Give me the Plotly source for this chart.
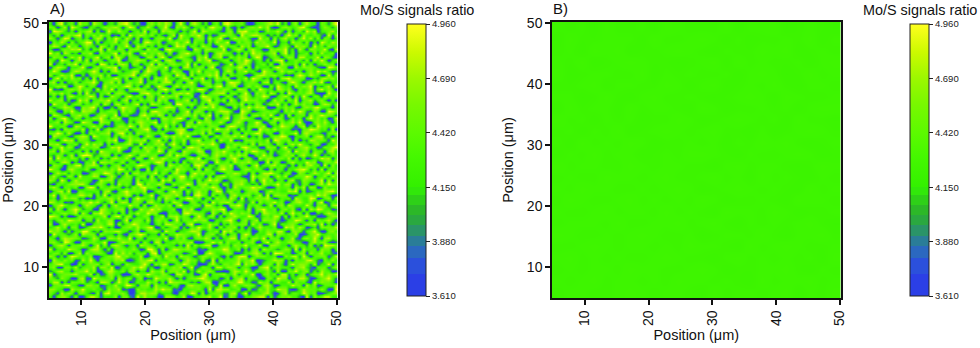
import numpy as np
import plotly.graph_objects as go

FONT = "Liberation Sans"
W, H = 980, 348

# digit = ratio level, read by eye from the map (coarser than the original pixels)
levels_a = [3.64, 3.72, 3.92, 4.20, 4.30, 4.40, 4.50, 4.62, 4.76, 4.90]
levels_b = [4.22, 4.23, 4.24, 4.25]

rows_a = [
"40577316004885143370662194855301776348014466835912750043678805136674420917358833",
"63184750663217089455730148867723441065398170456622781390544783016825539746012367",
"77430085694463317568120074533869771204455630918877346005126483397720148655374019",
"15668943107756024483399516670843325510786644731900583476621785014439660837125548",
"38804165572430886139470253384615097766423158800473659934128570663381745209476631",
"64275300781196545708366147022975583140466897334126057815430066297713488501367942",
"90356678443805127734001685596437620884351179045673382464900573618825147036694758",
"23784415669370048853627714308558166739042836751100487396254473180065936714285401",
"57106638245581773901445869723016447580391265408837761453006892574431678320556147",
"46893300714667258044175336950748812659734001583266479185730466183049577628133905",
"08537461283940565376800247689153367404856272190734558366901245877130645894206373",
"75140698553701246689573338014762945086631377465205148980376633501748829405566138",
"36627004817456630193847265518903675541248006973357610244786151998340267074583421",
"81453976302788415056644730299417038866753120545698337041670855324761908345176604",
"04786155684039271787313508664275543140927368801546275593448017763306854270319886",
"67329840175563490024876651730881346475680013594827336145700592684477330158467212",
"53068776412385107758439046145563902737214658604135880762773916550448216749507835",
"19454237086660743315205689723308144876535904672381460597143388076354801267933546",
"86730514599424076688431370256741955033688712547096824436015376488207751469300674",
"35847066113787952400567384689015247703164954830726671503258443610978385024176658",
"70168435290046638817256974430362886450791133856042745660837125904467413768290503",
"42573986704518347701390566281574603925548677014368930472581766730245983160746831",
"98614002756633580489277133650448177836403952670514685349702463881607256934011577",
"25367458183077965240615384496720053418967652083173964756041875538049461700325864",
"61830579624410873356704128559683346107582034476890154328067944615737207085984412",
"04796345038652170484339560712856470693346518852401779605364138057286343940657178",
"87351204476968325905871664078331528740166245093778615422807356946015784371690243",
"36048577230214657738040496536172864055983713607462850914376683125450863398025716",
"59167344885706291446587130349026775841308964172530683567248190776602145574968301",
"13782900653345178203796654801473159660725846039814745036670258453387906123647895",
"68405536017981644755132748956307642188045375697203185466978310264550838176027344",
"20543677884126730518463099274586117435960678254063177833240854693771416502583966",
"75196038455302867714655082337419580476331725968402366751804947135068227643490816",
"48321760944587015830376246608153074599286340715783654201946670383812556970347285",
"03857264501376498625180773545926417833069574460126587340713889642560175248636917",
"96410785337204653749826151080634752966341807523895601477365206154043789726180554",
"17630448926785041367053389741256086374518960432775814630592447836315062784509173",
"54278603115490876623714504663897151407237685019346285768340191760258433967126648",
"80946375260636142785483076129548736620585913467204793156208477456380615024397815",
"32751480699823576051369427745610482967310476258563848670153936024757168439603264",
"67086324517140965438201764583396075218634870147695326074985416233580946716540783",
"15493760284567023879641350867274316540897725346018562897341076605923167834026589",
"76820546139385706144578229043768159426033685794105376442817563074158495326710437",
"43059781665214437690038576814692507338166924470853902166645380985471603287564196",
"08634215787096345162757430385106848573921046127367584950327114669820345716882403",
"56972830141753668048926175364437201697556381840274156073698245007346917853421567",
"21407566380429137576580346892051634788103465729658340726109673845541206698735180",
"94365018723684502137749618560473925160847342665017984325576801439763058142956374",
"35718640297501866043315278647905638421570956734840268513497026617358492006748315",
"60489327514376952768104456380217746895036218503379146875300461885127360594736028",
"18732056846015783390462127956386051447738264906157235840674739216080455183697642",
"75106493287740536651847303618975624035916740326888410975123564630748396227501986",
"42368750176892400315976524740136887256140578493631072659487800153746216758943305",
"09547136625367184078253690418752360994573261784015563804276137592604837450168726",
"83671402958045769341680527356184702536805147926370841596663402847173905682473051",
"26051784336970612854179364067249575813360298645127403786255971036840729416518637",
"57483620719231548067632017895470316786942050367881562493074728615096354782101946",
"91204675836408273915405786623158946024173985026476318750529634187472063581694730",
"34768015972650184473698250471396205837564014738925680147375006296351847690325818",
"68150437246793056828147469035627881450693276514306987245631780452169730468592143",
"05927384615081734596270358140765934248706591328467105382976241307894565013278674",
"72386591040465827103567914862403751967082345859170634410278856743120697385401926",
"49610258733796041685234870597316428650173926548038716593420965138476250473968312",
"15875043692147368790541236086754913307824561790236548817063342796501837664210985",
"80342769156530982417860751349086267543918044675123906785134627008543719260347561",
"63197405828076413569024687513940785126630847912356047498236151789034652718495036",
"27560384914369257088316540277169403586321759046812737560498023651476088345917620",
"94718623065820743691748205936485170267943516027865304172967346805925134607283451",
"31046587926154908327506673184720896345108627754390268615843017576924083176459208",
"58720946137430862615493086725153403978165286401973552847036694125730867419362745",
"06385172469917034582670341896470255836917340628459017366285743903418562704197386",
"74159803625048716396285170430567391284504761836920485673119460726835049382716504",
"42603758916373845020719468637252148096376950412785630946887513240695718436520917",
"19873250647806129538440362915708675314269087453216708895361274583071462958034683",
"65048197320542376786159703484136920758413362896507214036759482016763589320147526",
"30792461855186403427896241057375860493178524036189745620134578692405716843065279",
]

rows_b = [
"122112321221031221230213",
"212312212132212103122312",
"121221322112320112231021",
"231212112321102312121203",
"112321221213221031232112",
"321121232112012213102231",
"122213112231231021212310",
"211231221312103221320112",
"132112312121320112103221",
"213221121232012321210312",
"121132212311231203121021",
"312211321221102312210132",
"021312201213321021123201",
"203121320112120213231012",
"120213012321231102012321",
"312021201132012321203110",
"031220312210320112120233",
"220131023112101232032112",
"112302211320230121310221",
"301221130212112023201312",
"213012321101230312112023",
"120323011232102113230121",
"031122203112320201121302",
"212031120321113022301210",
]

# colorbar
bar_ticks = [3.61, 3.88, 4.15, 4.42, 4.69, 4.96]
bar_labels = ["3.610", "3.880", "4.150", "4.420", "4.690", "4.960"]
band_edges = [3.61, 3.72, 3.80, 3.86, 3.91, 3.96, 4.01, 4.06, 4.11, 4.15]
band_colors = ["#2b3fe6", "#2b50dc", "#2b68c0", "#2a7d98", "#2a9468", "#2aa840", "#2cb828", "#2ed018", "#31e80a"]
top_values = [4.15, 4.30, 4.42, 4.56, 4.69, 4.82, 4.96]
top_colors = ["#33f000", "#45f800", "#5cfa00", "#78f800", "#9cf800", "#ccfa00", "#ffff1e"]

span = bar_ticks[-1] - bar_ticks[0]
scale = []
for i, c in enumerate(band_colors):
    scale.append([(band_edges[i] - 3.61) / span, c])
    scale.append([(band_edges[i + 1] - 3.61) / span, c])
for v, c in zip(top_values, top_colors):
    scale.append([(v - 3.61) / span, c])
scale[-1][0] = 1.0


def grid(rows, levels):
    n = min(len(r) for r in rows)
    return [[levels[int(c)] for c in row[:n]] for row in rows]


def cells(n, lo=4.85, hi=50.1):
    edges = np.linspace(lo, hi, n + 1)
    return (edges[:-1] + edges[1:]) / 2


def frac_x(px):
    return px / W


def frac_y(px):
    return 1 - px / H


fig = go.Figure()

panels = [
    (rows_a, levels_a, 48.5, 407, "x", "y", "A)"),
    (rows_b, levels_b, 552, 910, "x2", "y2", "B)"),
]

for rows, levels, x0, bar_x, xa, ya, letter in panels:
    z = grid(rows, levels)
    fig.add_trace(go.Heatmap(
        z=z,
        x=cells(len(z[0])),
        y=cells(len(z), 4.95),
        xaxis=xa, yaxis=ya,
        zmin=bar_ticks[0], zmax=bar_ticks[-1],
        colorscale=scale,
        zsmooth="best",
        colorbar=dict(
            x=frac_x(bar_x), xanchor="left", xpad=0, ypad=0,
            y=frac_y(24), yanchor="top",
            len=272 / H, lenmode="fraction",
            thickness=19, thicknessmode="pixels",
            outlinecolor="#222", outlinewidth=1,
            tickmode="array", tickvals=bar_ticks, ticktext=bar_labels,
            ticks="outside", ticklen=4, tickwidth=1, tickcolor="#222",
            tickfont=dict(family=FONT, size=9.5, color="#222"),
        ),
    ))
    fig.add_annotation(x=frac_x(x0 - 1), y=frac_y(9), xref="paper", yref="paper", text=letter,
                       showarrow=False, xanchor="left", yanchor="middle",
                       font=dict(family=FONT, size=15, color="#111"))
    fig.add_annotation(x=frac_x(bar_x + 10), y=frac_y(10), xref="paper", yref="paper", text="Mo/S signals ratio",
                       showarrow=False, xanchor="center", yanchor="middle",
                       font=dict(family=FONT, size=14.4, color="#111"))

axis_style = dict(
    showline=True, linecolor="#111", linewidth=1.5, mirror=True,
    ticks="outside", ticklen=5, tickwidth=1.5, tickcolor="#111",
    tickmode="array", tickvals=[10, 20, 30, 40, 50],
    showgrid=False, zeroline=False, automargin=False,
    tickfont=dict(family=FONT, size=14, color="#111"),
)
title_font = dict(family=FONT, size=14.5, color="#111")

fig.update_layout(
    width=W, height=H, autosize=False,
    margin=dict(l=0, r=0, t=0, b=0, autoexpand=False),
    paper_bgcolor="white", plot_bgcolor="white",
    xaxis=dict(domain=[frac_x(48.5), frac_x(337.5)], range=[4.85, 50.1], tickangle=-90,
               title=dict(text="Position (μm)", font=title_font, standoff=5), **axis_style),
    yaxis=dict(domain=[frac_y(298), frac_y(22)], range=[4.95, 50.1],
               title=dict(text="Position (μm)", font=title_font, standoff=10), **axis_style),
    xaxis2=dict(domain=[frac_x(552), frac_x(840.5)], range=[4.85, 50.1], tickangle=-90, anchor="y2",
                title=dict(text="Position (μm)", font=title_font, standoff=5), **axis_style),
    yaxis2=dict(domain=[frac_y(298), frac_y(22)], range=[4.95, 50.1], anchor="x2",
                title=dict(text="Position (μm)", font=title_font, standoff=10), **axis_style),
)

# the page's default body margin would push the figure out of the window
fig.write_html("out.html", config={"displayModeBar": False}, post_script="document.body.style.margin='0';")
